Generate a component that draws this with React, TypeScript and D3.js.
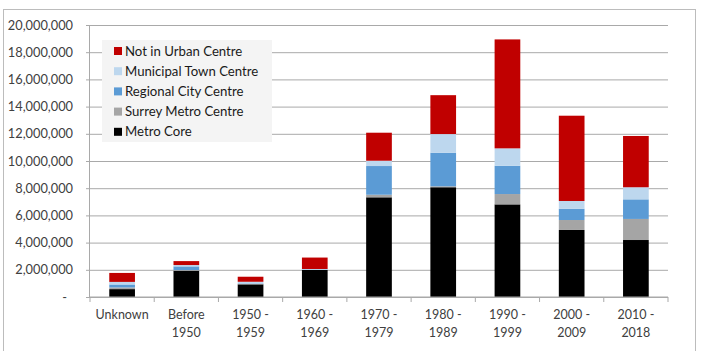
import React, { useEffect, useRef } from "react";
import * as d3 from "d3";

// Period labels (line 1 / line 2 under the axis)
const periodTop = ["Unknown", "Before", "1950 -", "1960 -", "1970 -", "1980 -", "1990 -", "2000 -", "2010 -"];
const periodBottom = ["", "1950", "1959", "1969", "1979", "1989", "1999", "2009", "2018"];

// Floor area by location type, bottom to top of each stack
const metroCore = [580000, 1930000, 930000, 1990000, 7330000, 8070000, 6810000, 4930000, 4190000];
const surreyMetro = [120000, 50000, 30000, 0, 190000, 70000, 760000, 730000, 1550000];
const regionalCity = [220000, 270000, 40000, 30000, 2110000, 2470000, 2080000, 830000, 1440000];
const municipalTown = [190000, 100000, 120000, 40000, 390000, 1370000, 1280000, 570000, 890000];
const notUrban = [660000, 290000, 370000, 840000, 2060000, 2860000, 8010000, 6270000, 3770000];

const seriesNames = [
  "Metro Core",
  "Surrey Metro Centre",
  "Regional City Centre",
  "Municipal Town Centre",
  "Not in Urban Centre",
];
const seriesColors = ["#000000", "#a5a5a5", "#5b9bd5", "#bdd7ee", "#c00000"];

const yTicks = [0, 2e6, 4e6, 6e6, 8e6, 10e6, 12e6, 14e6, 16e6, 18e6, 20e6];

const FloorAreaChart = () => {
  const ref = useRef<SVGSVGElement>(null);

  useEffect(() => {
    const width = 702;
    const height = 351;
    const marginTop = 25;
    const marginLeft = 90;
    const plotRight = 668;
    const plotBottom = 297;
    const font = "Lato, 'Open Sans', sans-serif";
    const textColor = "#404040";
    const gridColor = "#a9a9a9";

    const rows = periodTop.map((p, i) => ({
      key: p + " " + periodBottom[i],
      [seriesNames[0]]: metroCore[i],
      [seriesNames[1]]: surreyMetro[i],
      [seriesNames[2]]: regionalCity[i],
      [seriesNames[3]]: municipalTown[i],
      [seriesNames[4]]: notUrban[i],
    }));

    const stacked = d3.stack<any>().keys(seriesNames)(rows);

    const x = d3
      .scaleBand()
      .domain(rows.map((d) => d.key))
      .range([marginLeft, plotRight])
      .paddingInner(0.6)
      .paddingOuter(0.3);

    const y = d3.scaleLinear().domain([0, 20e6]).range([plotBottom, marginTop]);

    const color = d3.scaleOrdinal<string>().domain(seriesNames).range(seriesColors);

    const svg = d3
      .select(ref.current)
      .attr("width", width)
      .attr("height", height)
      .attr("viewBox", [0, 0, width, height].join(" "));

    svg.selectAll("*").remove();

    svg.append("rect").attr("width", width).attr("height", height).attr("fill", "#ffffff");

    // chart frame
    svg
      .append("rect")
      .attr("x", 3.5)
      .attr("y", 9.5)
      .attr("width", 692)
      .attr("height", 360)
      .attr("fill", "none")
      .attr("stroke", "#bcbcbc");

    // y axis with gridlines
    svg
      .append("g")
      .attr("transform", `translate(${marginLeft},0)`)
      .call(
        d3
          .axisLeft(y)
          .tickValues(yTicks)
          .tickSize(4)
          .tickPadding(13)
          .tickFormat((d) => (+d === 0 ? "-" : d3.format(",")(+d)))
      )
      .call((g) => g.select(".domain").attr("stroke", gridColor).attr("d", `M-0.5,${marginTop}V${plotBottom}`))
      .call((g) => g.selectAll(".tick line").attr("stroke", gridColor))
      .call((g) =>
        g
          .selectAll(".tick line")
          .clone()
          .attr("x1", 0)
          .attr("x2", plotRight - marginLeft)
          .attr("stroke", gridColor)
      )
      .call((g) =>
        g
          .selectAll(".tick text")
          .attr("fill", textColor)
          .attr("font-family", font)
          .attr("font-size", 12.8)
          .attr("dx", (d) => (+d === 0 ? -6 : 0))
      );

    // stacked bars
    svg
      .append("g")
      .selectAll("g")
      .data(stacked)
      .join("g")
      .attr("fill", (s) => color(s.key))
      .selectAll("rect")
      .data((s) => s)
      .join("rect")
      .attr("x", (d) => x(d.data.key)!)
      .attr("width", x.bandwidth())
      .attr("y", (d) => y(d[1]))
      .attr("height", (d) => y(d[0]) - y(d[1]));

    // x axis with boundary ticks between periods
    const xAxis = svg.append("g").attr("transform", `translate(0,${plotBottom})`);
    xAxis
      .append("line")
      .attr("x1", marginLeft)
      .attr("x2", plotRight)
      .attr("stroke", gridColor);
    xAxis
      .selectAll("line.tick")
      .data(d3.range(rows.length + 1))
      .join("line")
      .attr("class", "tick")
      .attr("x1", (i) => marginLeft + i * x.step())
      .attr("x2", (i) => marginLeft + i * x.step())
      .attr("y1", 0)
      .attr("y2", 5)
      .attr("stroke", gridColor);

    const labels = xAxis
      .selectAll("text")
      .data(rows)
      .join("text")
      .attr("x", (d) => x(d.key)! + x.bandwidth() / 2)
      .attr("text-anchor", "middle")
      .attr("fill", textColor)
      .attr("font-family", font)
      .attr("font-size", 12.5);
    labels
      .append("tspan")
      .attr("x", (d) => x(d.key)! + x.bandwidth() / 2)
      .attr("y", 22)
      .text((_, i) => periodTop[i]);
    labels
      .append("tspan")
      .attr("x", (d) => x(d.key)! + x.bandwidth() / 2)
      .attr("y", 39.5)
      .text((_, i) => periodBottom[i]);

    // legend (top series first)
    const legend = svg.append("g").attr("transform", "translate(102,40)");
    legend.append("rect").attr("width", 170).attr("height", 102).attr("fill", "#f4f4f4");
    const items = legend
      .selectAll("g")
      .data(seriesNames.slice().reverse())
      .join("g")
      .attr("transform", (_, i) => `translate(12,${11 + i * 20.2})`);
    items
      .append("rect")
      .attr("x", 0)
      .attr("y", -4)
      .attr("width", 8)
      .attr("height", 8)
      .attr("fill", (d) => color(d));
    items
      .append("text")
      .attr("x", 11)
      .attr("dy", "0.35em")
      .attr("fill", "#1a1a1a")
      .attr("font-family", font)
      .attr("font-size", 13.2)
      .text((d) => d);
  }, []);

  return <svg ref={ref} style={{ position: "fixed", left: 0, top: 0, display: "block" }}></svg>;
};

export default function App() {
  return <FloorAreaChart />;
}
